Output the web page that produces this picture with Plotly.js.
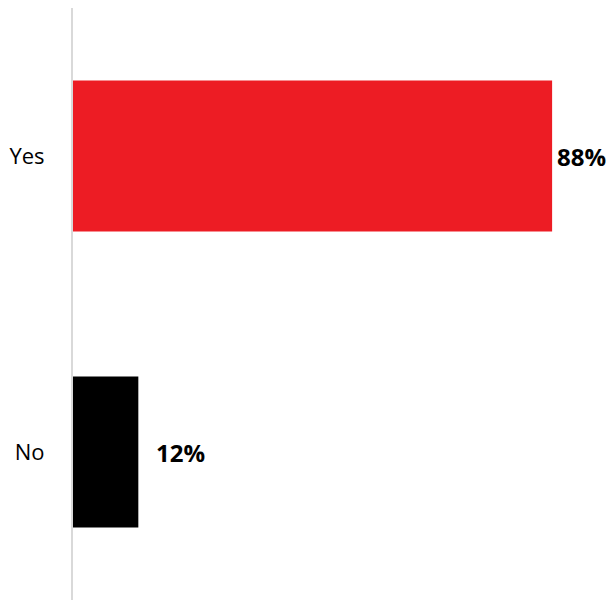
<!DOCTYPE html>
<html>
<head>
<meta charset="utf-8">
<script src="https://cdn.plot.ly/plotly-3.0.1.min.js"></script>
<style>html,body{margin:0;padding:0;background:#fff;}#chart{width:612px;height:600px;}</style>
</head>
<body>
<div id="chart"></div>
<script>
const categories = ["Yes", "No"];
const values = [0.88, 0.12];
const labels = ["88%", "12%"];
const barColors = ["#ED1C24", "#000000"];
const labelShifts = [3, 16];

const trace = {
  type: "bar",
  orientation: "h",
  y: categories,
  x: values,
  marker: {color: barColors},
  width: 0.51,
  hoverinfo: "none"
};

const annotations = categories.map((c, i) => ({
  x: values[i], y: c, xref: "x", yref: "y",
  text: "<b>" + labels[i] + "</b>",
  showarrow: false, xanchor: "left", yanchor: "middle",
  xshift: labelShifts[i],
  font: {family: "Open Sans, Liberation Sans, sans-serif", size: 24, color: "#000"}
}));

const layout = {
  width: 612, height: 600,
  margin: {l: 73, r: 0, t: 8, b: 0},
  paper_bgcolor: "#fff", plot_bgcolor: "#fff",
  showlegend: false,
  xaxis: {range: [0, 0.99], showgrid: false, zeroline: false, showticklabels: false, showline: false, fixedrange: true},
  yaxis: {autorange: "reversed", showgrid: false, zeroline: false, showline: true, linecolor: "#d9d9d9", linewidth: 2,
          ticks: "", ticklabelstandoff: 22,
          tickfont: {family: "Open Sans, Liberation Sans, sans-serif", size: 22, color: "#000"}},
  annotations: annotations,
  font: {family: "Open Sans, Liberation Sans, sans-serif"}
};

Plotly.newPlot("chart", [trace], layout, {displayModeBar: false, staticPlot: true});
</script>
</body>
</html>
